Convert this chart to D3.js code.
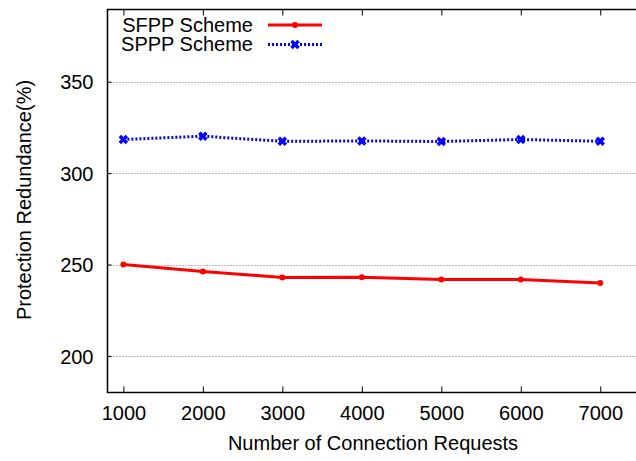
<!DOCTYPE html>
<html>
<head>
<meta charset="utf-8">
<script src="https://cdn.jsdelivr.net/npm/d3@7"></script>
<style>
  body { margin: 0; background: #fff; }
  svg { display: block; font-family: "Liberation Sans", Arial, sans-serif; }
</style>
</head>
<body>
<svg id="chart" width="636" height="461"></svg>
<script>
// Data.
const requests = [1000, 2000, 3000, 4000, 5000, 6000, 7000];
const sfppValues = [250.0, 246.2, 242.9, 243.0, 241.8, 241.8, 239.9];
const spppValues = [318.4, 320.2, 317.4, 317.6, 317.3, 318.4, 317.4];
const xTicks = [1000, 2000, 3000, 4000, 5000, 6000, 7000];
const yTicks = [200, 250, 300, 350];

const svg = d3.select("#chart");
const fontSize = 20;

// Plot frame (right edge falls off the canvas, like the reference).
const plotLeft = 107.5, plotTop = 9.5, plotBottom = 392.5, plotRight = 640;

const x = d3.scaleLinear().domain([800, 7500]).range([plotLeft, plotRight]);
const y = d3.scaleLinear().domain([180, 389.5]).range([plotBottom, plotTop]);

// Dotted grid lines at each y tick.
svg.append("g")
    .selectAll("line")
    .data(yTicks)
    .join("line")
    .attr("x1", plotLeft)
    .attr("x2", 636)
    .attr("y1", d => Math.round(y(d)) + 0.5)
    .attr("y2", d => Math.round(y(d)) + 0.5)
    .attr("stroke", "#777")
    .attr("stroke-width", 1)
    .attr("stroke-dasharray", "1,2");

// Axes with inward ticks.
const xAxis = svg.append("g")
    .attr("transform", "translate(0," + plotBottom + ")")
    .call(d3.axisBottom(x).tickValues(xTicks).tickFormat(d3.format("d"))
        .tickSize(-6).tickPadding(13));
const xAxisTop = svg.append("g")
    .attr("transform", "translate(0," + plotTop + ")")
    .call(d3.axisTop(x).tickValues(xTicks).tickSize(-6).tickFormat(""));
const yAxis = svg.append("g")
    .attr("transform", "translate(" + plotLeft + ",0)")
    .call(d3.axisLeft(y).tickValues(yTicks).tickSize(-4).tickPadding(14));

[xAxis, xAxisTop, yAxis].forEach(function(g) {
    g.select(".domain").remove();
    g.selectAll(".tick line").attr("stroke", "#000").attr("stroke-width", 1);
    g.selectAll("text")
        .attr("font-size", fontSize)
        .attr("font-family", "Liberation Sans, Arial, sans-serif")
        .attr("fill", "#000");
});
yAxis.selectAll("text").attr("dy", "0.36em");

// Frame spines.
svg.append("path")
    .attr("d", "M" + plotRight + "," + plotTop + "H" + plotLeft + "V" + plotBottom + "H" + plotRight)
    .attr("fill", "none")
    .attr("stroke", "#000")
    .attr("stroke-width", 1.5);

const line = d3.line()
    .x((d, i) => x(requests[i]))
    .y(d => y(d));

// SPPP series: dotted blue with cross markers.
svg.append("path")
    .datum(spppValues)
    .attr("d", line)
    .attr("fill", "none")
    .attr("stroke", "#0000ff")
    .attr("stroke-width", 3)
    .attr("stroke-dasharray", "2,2");

const crossPath = function(cx, cy, s) {
    return "M" + (cx - s) + "," + (cy - s) + "L" + (cx + s) + "," + (cy + s) +
        "M" + (cx - s) + "," + (cy + s) + "L" + (cx + s) + "," + (cy - s);
};

svg.append("g")
    .selectAll("path")
    .data(spppValues)
    .join("path")
    .attr("d", (d, i) => crossPath(x(requests[i]), y(d), 3.5))
    .attr("stroke", "#0000ff")
    .attr("stroke-width", 3.5)
    .attr("fill", "none");

// SFPP series: solid red with small dots.
svg.append("path")
    .datum(sfppValues)
    .attr("d", line)
    .attr("fill", "none")
    .attr("stroke", "#ff0000")
    .attr("stroke-width", 3);

svg.append("g")
    .selectAll("circle")
    .data(sfppValues)
    .join("circle")
    .attr("cx", (d, i) => x(requests[i]))
    .attr("cy", d => y(d))
    .attr("r", 3)
    .attr("fill", "#ff0000");

// Legend.
const legend = svg.append("g");
legend.append("text")
    .attr("x", 253).attr("y", 31.5)
    .attr("text-anchor", "end")
    .attr("font-size", fontSize)
    .text("SFPP Scheme");
legend.append("line")
    .attr("x1", 268).attr("x2", 322).attr("y1", 25).attr("y2", 25)
    .attr("stroke", "#ff0000").attr("stroke-width", 3);
legend.append("circle")
    .attr("cx", 295).attr("cy", 25).attr("r", 3).attr("fill", "#ff0000");

legend.append("text")
    .attr("x", 253).attr("y", 51)
    .attr("text-anchor", "end")
    .attr("font-size", fontSize)
    .text("SPPP Scheme");
legend.append("line")
    .attr("x1", 268).attr("x2", 322).attr("y1", 44.5).attr("y2", 44.5)
    .attr("stroke", "#0000ff").attr("stroke-width", 3)
    .attr("stroke-dasharray", "2,2");
legend.append("path")
    .attr("d", crossPath(295, 44.5, 3.5))
    .attr("stroke", "#0000ff").attr("stroke-width", 3.5);

// Axis titles.
svg.append("text")
    .attr("x", 373)
    .attr("y", 450)
    .attr("text-anchor", "middle")
    .attr("font-size", fontSize)
    .text("Number of Connection Requests");

svg.append("text")
    .attr("transform", "translate(31,200) rotate(-90)")
    .attr("text-anchor", "middle")
    .attr("font-size", fontSize)
    .text("Protection Redundance(%)");
</script>
</body>
</html>
